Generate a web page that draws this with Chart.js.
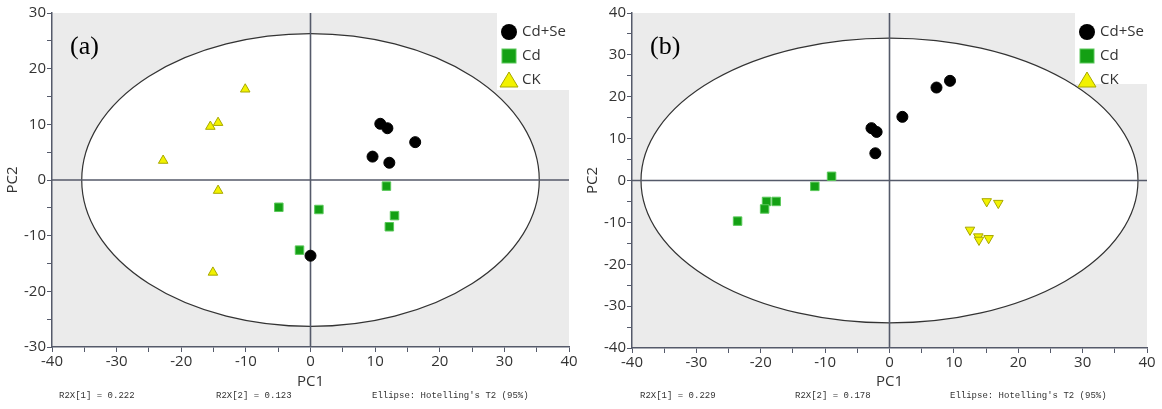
<!DOCTYPE html>
<html>
<head>
<meta charset="utf-8">
<script src="https://cdn.jsdelivr.net/npm/chart.js@4.4.1/dist/chart.umd.min.js"></script>
<style>
  body { margin: 0; background: #fff; }
  .panel { position: absolute; top: 0; }
</style>
</head>
<body>
<div class="panel" style="left:0"><canvas id="chartA" width="580" height="409"></canvas></div>
<div class="panel" style="left:580px"><canvas id="chartB" width="582" height="409"></canvas></div>
<script>
const groups = ["Cd+Se", "Cd", "CK"];

// panel (a)
const aCdSeX = [10.8, 11.9, 16.2, 9.6, 12.2, 0.0];
const aCdSeY = [10.1, 9.3, 6.8, 4.2, 3.1, -13.6];
const aCdX = [11.75, -4.9, 1.3, 13.0, 12.2, -1.7];
const aCdY = [-1.1, -4.9, -5.3, -6.4, -8.4, -12.6];
const aCkX = [-10.1, -14.3, -15.5, -22.8, -14.3, -15.1];
const aCkY = [16.3, 10.3, 9.6, 3.5, -1.9, -16.6];
const aEllipse = [35.4, 26.3];
const aR2X = ["0.222", "0.123"];
const aYRange = [-30, 30];

// panel (b)
const bCdSeX = [9.4, 7.3, 2.0, -2.8, -2.0, -2.2];
const bCdSeY = [23.8, 22.2, 15.2, 12.5, 11.6, 6.5];
const bCdX = [-9.0, -11.6, -17.6, -19.1, -19.4, -23.6];
const bCdY = [1.0, -1.4, -5.0, -5.0, -6.8, -9.7];
const bCkX = [15.1, 16.9, 12.5, 13.8, 13.9, 15.4];
const bCkY = [-5.0, -5.4, -11.8, -13.4, -14.2, -13.8];
const bEllipse = [38.6, 34.0];
const bR2X = ["0.229", "0.178"];
const bYRange = [-40, 40];

const xRange = [-40, 40];

const axisColor = "#555a6a";
const textColor = "#333";
const tickFont = { family: "'Open Sans', sans-serif", size: 15 };

const pts = (xs, ys) => xs.map((x, i) => ({ x: x, y: ys[i] }));

const decorPlugin = {
  id: "decor",
  beforeDraw(chart) {
    const o = chart.options.plugins.decor;
    const { ctx, chartArea: ca, scales } = chart;
    const cx = scales.x.getPixelForValue(0);
    const cy = scales.y.getPixelForValue(0);
    const rx = scales.x.getPixelForValue(o.ellipse[0]) - cx;
    const ry = cy - scales.y.getPixelForValue(o.ellipse[1]);
    ctx.save();
    ctx.fillStyle = "#ebebeb";
    ctx.fillRect(ca.left, ca.top, ca.right - ca.left, ca.bottom - ca.top);
    ctx.beginPath();
    ctx.ellipse(cx, cy, rx, ry, 0, 0, Math.PI * 2);
    ctx.fillStyle = "#fff";
    ctx.fill();
    ctx.strokeStyle = "#333";
    ctx.lineWidth = 1.2;
    ctx.stroke();
    ctx.strokeStyle = axisColor;
    ctx.lineWidth = 1.6;
    ctx.beginPath();
    ctx.moveTo(ca.left, cy);
    ctx.lineTo(ca.right, cy);
    ctx.moveTo(cx, ca.top);
    ctx.lineTo(cx, ca.bottom);
    ctx.stroke();
    ctx.restore();
  },
  afterDraw(chart) {
    const o = chart.options.plugins.decor;
    const { ctx, chartArea: ca } = chart;
    ctx.save();
    // legend box
    ctx.fillStyle = "#fff";
    ctx.fillRect(ca.right - 72, ca.top - 1, 75, o.legendH);
    const mx = ca.right - 60;
    const rows = [ca.top + 19, ca.top + 43, ca.top + 67];
    ctx.fillStyle = "#000";
    ctx.beginPath();
    ctx.arc(mx, rows[0], 8, 0, Math.PI * 2);
    ctx.fill();
    ctx.fillStyle = "#14a014";
    ctx.strokeStyle = "#5ac85a";
    ctx.lineWidth = 1;
    ctx.fillRect(mx - 7, rows[1] - 7, 14, 14);
    ctx.strokeRect(mx - 7, rows[1] - 7, 14, 14);
    ctx.beginPath();
    ctx.moveTo(mx, rows[2] - 8);
    ctx.lineTo(mx + 9, rows[2] + 7);
    ctx.lineTo(mx - 9, rows[2] + 7);
    ctx.closePath();
    ctx.fillStyle = "#f2f200";
    ctx.fill();
    ctx.strokeStyle = "#a8a800";
    ctx.stroke();
    ctx.fillStyle = textColor;
    ctx.font = "15px 'Open Sans', sans-serif";
    ctx.textBaseline = "middle";
    ctx.textAlign = "left";
    groups.forEach((g, i) => ctx.fillText(g, mx + 13, rows[i]));
    // panel label
    ctx.fillStyle = "#000";
    ctx.font = "26px 'Liberation Serif', serif";
    ctx.textBaseline = "alphabetic";
    ctx.fillText(o.label, ca.left + 18, ca.top + 41);
    // footer
    ctx.fillStyle = textColor;
    ctx.font = "9px 'Liberation Mono', monospace";
    ctx.textBaseline = "middle";
    ctx.fillText("R2X[1] = " + o.r2x[0], o.footX[0], 396);
    ctx.fillText("R2X[2] = " + o.r2x[1], o.footX[1], 396);
    ctx.fillText("Ellipse: Hotelling's T2 (95%)", o.footX[2], 396);
    ctx.restore();
  }
};

function axis(range, title, fit) {
  return {
    type: "linear",
    min: range[0],
    max: range[1],
    border: { display: true, color: axisColor, width: 1.5 },
    grid: { display: true, drawOnChartArea: false, drawTicks: true, tickLength: 5, tickColor: axisColor },
    ticks: {
      stepSize: 5,
      autoSkip: false,
      maxRotation: 0,
      color: textColor,
      font: tickFont,
      padding: 1,
      callback: (v) => (v % 10 === 0 ? v : "")
    },
    title: { display: true, text: title, color: textColor, font: { family: "'Open Sans', sans-serif", size: 15 } },
    afterFit: fit
  };
}

function makeChart(id, d) {
  new Chart(document.getElementById(id), {
    type: "scatter",
    data: {
      datasets: [
        { label: groups[0], data: pts(d.cdseX, d.cdseY), pointStyle: "circle", pointRadius: 5.5,
          backgroundColor: "#000", borderColor: "#000", borderWidth: 1 },
        { label: groups[1], data: pts(d.cdX, d.cdY), pointStyle: "rect", pointRadius: 6,
          backgroundColor: "#14a014", borderColor: "#5ac85a", borderWidth: 1 },
        { label: groups[2], data: pts(d.ckX, d.ckY), pointStyle: "triangle", pointRadius: 5.5,
          rotation: d.ckRot, backgroundColor: "#f2f200", borderColor: "#a8a800", borderWidth: 1 }
      ]
    },
    options: {
      responsive: false,
      animation: false,
      layout: { padding: { top: 13, right: d.padRight, bottom: 14, left: 0 } },
      scales: {
        x: axis(xRange, "PC1", (s) => { s.height = d.xHeight; }),
        y: axis(d.yRange, "PC2", (s) => { s.width = 52; })
      },
      plugins: {
        legend: { display: false },
        tooltip: { enabled: false },
        decor: { label: d.label, ellipse: d.ellipse, r2x: d.r2x, footX: d.footX, legendH: d.legendH }
      }
    },
    plugins: [decorPlugin]
  });
}

makeChart("chartA", {
  cdseX: aCdSeX, cdseY: aCdSeY, cdX: aCdX, cdY: aCdY, ckX: aCkX, ckY: aCkY, ckRot: 0,
  yRange: aYRange, ellipse: aEllipse, r2x: aR2X, label: "(a)",
  padRight: 11, xHeight: 48, footX: [59, 216, 372], legendH: 78
});
makeChart("chartB", {
  cdseX: bCdSeX, cdseY: bCdSeY, cdX: bCdX, cdY: bCdY, ckX: bCkX, ckY: bCkY, ckRot: 180,
  yRange: bYRange, ellipse: bEllipse, r2x: bR2X, label: "(b)",
  padRight: 15, xHeight: 47, footX: [60, 215, 370], legendH: 72
});
</script>
</body>
</html>
